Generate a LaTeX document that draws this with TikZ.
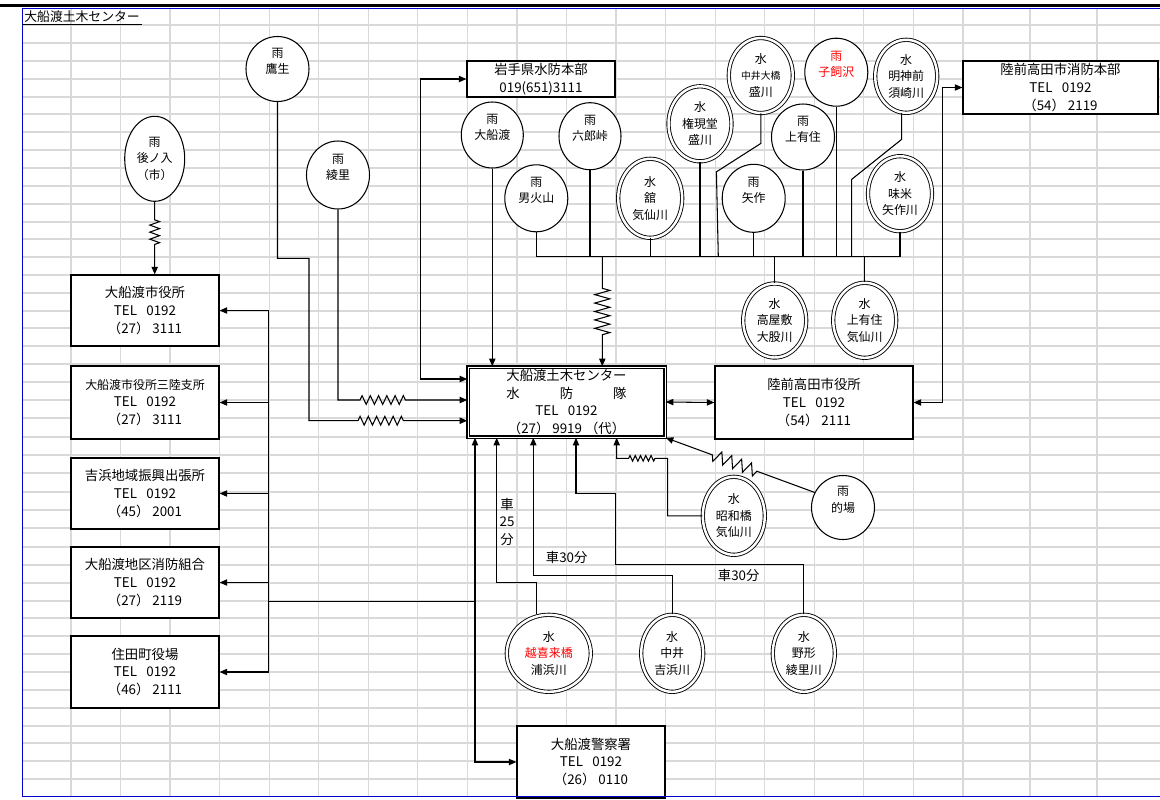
\documentclass[tikz,border=0pt]{standalone}
\usepackage{fontspec}
\setmainfont{Noto Sans CJK JP}
\usetikzlibrary{%
        arrows.meta,
        decorations.pathmorphing,
        shapes.geometric
    }
\definecolor{sheetblue}{RGB}{0, 0, 210}
\definecolor{gridgray}{RGB}{217, 217, 217}
\newcommand{\boxtxt}{\fontsize{7.6pt}{10pt}\selectfont}
\newcommand{\ringtxt}{\fontsize{6.8pt}{9.3pt}\selectfont}
\newcommand{\telline}{TEL\hspace{0.7em}0192}
\tikzset{
    wh/.style 2 args={minimum width=#1*0.02cm, minimum height=#2*0.02cm},
    box/.style={draw, fill=white, line width=0.7pt, align=center, inner sep=0pt, font=\boxtxt},
    rain/.style={ellipse, draw, fill=white, line width=0.6pt, align=center, inner sep=0pt, font=\ringtxt},
    water/.style={rain, line width=0.5pt, double, double distance=1.4pt},
    link/.style={line width=0.6pt},
    arr/.style={link, -{Triangle[length=4.3pt, width=3.6pt]}},
    arrs/.style={link, {Triangle[length=4.3pt, width=3.6pt]}-{Triangle[length=4.3pt, width=3.6pt]}},
    spring/.style 2 args={decoration={zigzag, segment length=#1, amplitude=#2}},
    note/.style={font=\boxtxt, align=center, inner sep=0pt}
}

\begin{document}
\begin{tikzpicture}[x=0.02cm, y=-0.02cm]

    \useasboundingbox (0, 0) rectangle (1160, 799);

    % sheet
    \foreach \gy in {25, 43, 61, 79, 97, 114, 132, 150, 168, 186, 204, 222, 239, 257,
                     275, 293, 311, 328, 346, 364, 382, 400, 418, 437, 455, 473, 492,
                     510, 528, 547, 565, 583, 601, 618, 636, 654, 672, 690, 708, 726,
                     743, 761, 779}
        \draw[gridgray, line width=0.7pt] (22, \gy) -- (1160, \gy);
    \foreach \gx in {0, ..., 18}
        \draw[gridgray, line width=0.7pt] ({71+49.55*\gx}, 8) -- ({71+49.55*\gx}, 797);
    \foreach \gx in {1030, 1097}
        \draw[gridgray, line width=0.7pt] (\gx, 8) -- (\gx, 797);
    \draw[line width=1.5pt] (0, 5.3) -- (1160, 5.3);
    \draw[sheetblue, line width=0.6pt] (22.3, 8.3) -- (1160, 8.3);
    \draw[sheetblue, line width=0.8pt] (22.3, 8.3) -- (22.3, 797);

    \node[anchor=west, inner sep=0pt, font=\fontsize{7.3pt}{9pt}\selectfont]
        (title) at (24, 16.5) {大船渡土木センター};
    \draw[line width=0.5pt] (22.3, 24) -- (142, 24);

    % offices
    \node[box, wh={148}{71}] (shiyakusho) at (145, 310.5) {大船渡市役所\\\telline\\（27） 3111};
    \node[box, wh={148}{73}] (sanriku) at (145, 402.5)
        {{\fontsize{6.8pt}{10pt}\selectfont 大船渡市役所三陸支所}\\\telline\\（27） 3111};
    \node[box, wh={148}{71}] (yoshihama) at (145, 493.5) {吉浜地域振興出張所\\\telline\\（45） 2001};
    \node[box, wh={148}{71}] (shobo) at (145, 582.5) {大船渡地区消防組合\\\telline\\（27） 2119};
    \node[box, wh={148}{72}] (sumita) at (145, 672) {住田町役場\\\telline\\（46） 2111};
    \node[box, wh={197}{70}, line width=0.9pt, double, double distance=0.5pt] (suibo) at (566.5, 402)
        {大船渡土木センター\\水\hspace{3em}防\hspace{3em}隊\\\telline\\（27） 9919 （代）};
    \node[box, wh={198}{73}] (takata) at (814, 402.5) {陸前高田市役所\\\telline\\（54） 2111};
    \node[box, wh={148}{36}] (iwate) at (541, 79) {岩手県水防本部\\019(651)3111};
    \node[box, wh={195}{53}] (takatafire) at (1060.5, 87.5) {陸前高田市消防本部\\\telline\\（54） 2119};
    \node[box, wh={148}{72}] (police) at (591, 762) {大船渡警察署\\\telline\\（26） 0110};

    % gauges
    \node[rain, wh={60}{85}] (r-atonoiri) at (154.7, 158.8) {雨\\後ノ入\\（市）};
    \node[rain, wh={63}{65}] (r-takaso) at (277.5, 69) {雨\\鷹生\\\mbox{}};
    \node[rain, wh={63}{68}] (r-ryori) at (338, 175) {雨\\綾里\\\mbox{}};
    \node[rain, wh={62}{66}] (r-ofunato) at (492.3, 135) {雨\\大船渡\\\mbox{}};
    \node[rain, wh={63}{67}] (r-onibi) at (536.3, 198.3) {雨\\男火山\\\mbox{}};
    \node[rain, wh={62}{67}] (r-rokuro) at (590, 136.2) {雨\\六郎峠\\\mbox{}};
    \node[water, wh={64}{79}] (w-tate) at (650.2, 198.3) {水\\舘\\気仙川};
    \node[water, wh={63}{75}] (w-gongen) at (700, 123.8) {水\\権現堂\\盛川};
    \node[water, wh={64}{75}] (w-nakaiohashi) at (760.8, 75.5)
        {水\\{\fontsize{5.6pt}{8pt}\selectfont 中井大橋}\\盛川};
    \node[rain, wh={63}{68}] (r-yahagi) at (753.7, 198.3) {雨\\矢作\\\mbox{}};
    \node[rain, wh={63}{68}, text=red] (r-kogaisawa) at (836.3, 72.2) {雨\\子飼沢\\\mbox{}};
    \node[rain, wh={63}{66}] (r-kamiarisu) at (803, 137) {雨\\上有住\\\mbox{}};
    \node[water, wh={62}{73}] (w-myojin) at (906.2, 76.3) {水\\明神前\\須崎川};
    \node[water, wh={64}{75}] (w-mime) at (900, 193.7) {水\\味米\\矢作川};
    \node[water, wh={63}{74}] (w-takayashiki) at (774.7, 320.5) {水\\高屋敷\\大股川};
    \node[water, wh={63}{75}] (w-kamiarisu) at (864.7, 320.3) {水\\上有住\\気仙川};
    \node[water, wh={62}{78}] (w-showa) at (733.8, 515.8) {水\\昭和橋\\気仙川};
    \node[rain, wh={63}{64}] (r-matoba) at (843, 507.5) {雨\\的場\\\mbox{}};
    \node[water, wh={84}{77}] (w-okirai) at (548.8, 653.3) {水\\\textcolor{red}{越喜来橋}\\浦浜川};
    \node[water, wh={62}{77}] (w-nakai) at (672.2, 653.3) {水\\中井\\吉浜川};
    \node[water, wh={62}{77}] (w-nogata) at (803.8, 653.3) {水\\野形\\綾里川};

    % rain lines from the west
    \draw[arr] (r-atonoiri.south) -- ++(0, 18) decorate[spring={4pt}{2.8pt}]{-- ++(0, 28)}
        -- (r-atonoiri.south |- shiyakusho.north);
    \draw[arr] (r-takaso.south) |- (309, 258.3) |- (358, 420.7)
        decorate[spring={4.7pt}{2.5pt}]{-- ++(47, 0)} -- (suibo.west |- 0, 420.7);
    \draw[arr] (r-ryori.south) |- (360, 400)
        decorate[spring={4.7pt}{2.5pt}]{-- ++(47, 0)} -- (suibo.west |- 0, 400);
    \draw[arrs] (iwate.west) -| (420.7, 379) -- (suibo.west |- 0, 379);
    \draw[arr] (r-ofunato.south) -- (r-ofunato.south |- suibo.north);

    % collecting line
    \coordinate (bus) at (602.3, 256.7);
    \draw[link] (r-onibi.south |- bus) -- (w-mime.south |- bus);
    \foreach \n in {r-onibi, r-rokuro, w-tate, w-gongen, r-yahagi, r-kamiarisu, r-kogaisawa, w-mime}
        \draw[link] (\n.south) -- (\n.south |- bus);
    \draw[link] (w-nakaiohashi.south) -- ++(0, 30) -- ++(-44.4, 28.4) -- (bus -| 718.3, 0);
    \draw[link] (901.7, 0 |- w-myojin.south) -- (901.7, 139.3) -- (851.7, 179.3) -- (bus -| 851.7, 0);
    \draw[arr] (bus) -- ++(0, 31.6) decorate[spring={4.8pt}{4.3pt}]{-- ++(0, 46.7)}
        -- (bus |- suibo.north);
    \draw[link] (w-takayashiki.north |- bus) -- (w-takayashiki.north);
    \draw[link] (w-kamiarisu.north |- bus) -- (w-kamiarisu.north);

    % east
    \draw[arrs] (suibo.east) -- (takata.west);
    \draw[arrs] (takata.east) -| (takatafire.west -| 942.5, 0) -- (takatafire.west);

    % west and south
    \coordinate (lbus) at (268.5, 601.5);
    \draw[arrs] (police.west) -| (suibo.south -| 475, 0);
    \draw[link] (lbus) -- (lbus -| 475, 0);
    \draw[link] (shiyakusho.east -| lbus) -- (sumita.east -| lbus);
    \foreach \n in {shiyakusho, sanriku, yoshihama, shobo, sumita}
        \draw[arr] (\n.east -| lbus) -- (\n.east);

    % water lines from the south
    \draw[arr] (536.7, 0 |- w-okirai.north) |- (496.7, 582.5) -- (suibo.south -| 496.7, 0);
    \node[note] (t25) at (507, 521.7) {車\\25\\分};
    \draw[arr] (w-nakai.north) |- (533.3, 575.5) -- (suibo.south -| 533.3, 0);
    \node[note] (t30a) at (566.7, 557.3) {車30分};
    \draw[arr] (w-nogata.north) |- (615.7, 564.3) |- (576, 493.3) -- (suibo.south -| 576, 0);
    \node[note] (t30b) at (738.7, 575.7) {車30分};
    \draw[arr] (w-showa.west) -| (667.7, 458.3) -- (655, 458.3)
        decorate[spring={3pt}{1.6pt}]{-- (628.3, 458.3)} -| (suibo.south -| 616.7, 0);
    \draw[arr, decorate, spring={6pt}{3.4pt}, decoration={pre length=35pt, post length=27pt}]
        (r-matoba.152) -- (suibo.south east);

    \draw[sheetblue, line width=1.1pt] (22.3, 796.5) -- (1160, 796.5);

\end{tikzpicture}
\end{document}
